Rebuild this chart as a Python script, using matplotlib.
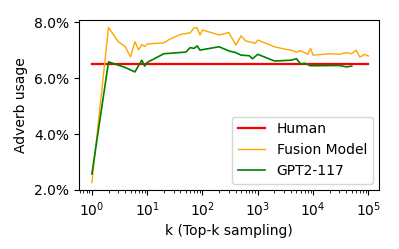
import matplotlib
matplotlib.use("Agg")
import matplotlib.pyplot as plt
from matplotlib.ticker import PercentFormatter

human_k = [1, 100000]
human_y = [6.52, 6.52]

fusion_k = [1, 2, 3, 4, 5, 6, 7, 8, 9, 10, 20, 25, 40, 60, 70, 80, 90, 100,
            200, 300, 400, 500, 600, 800, 900, 1000, 2000, 3000, 4000, 5000,
            6000, 8000, 9000, 10000, 20000, 30000, 40000, 50000, 60000, 70000,
            85000, 100000]
fusion_y = [2.26, 7.81, 7.30, 7.13, 6.76, 7.30, 7.01, 7.20, 7.13, 7.22, 7.26,
            7.38, 7.56, 7.62, 7.79, 7.80, 7.54, 7.72, 7.54, 7.63, 7.18, 7.51,
            7.33, 7.27, 7.24, 7.36, 7.12, 7.04, 7.00, 6.93, 6.98, 6.85, 7.06,
            6.82, 6.87, 6.85, 6.91, 6.87, 7.00, 6.75, 6.85, 6.79]

gpt_k = [1, 2, 4, 6, 8, 9, 10, 20, 50, 60, 70, 80, 90, 200, 300, 400, 500,
         700, 800, 1000, 2000, 4000, 5000, 6000, 7000, 9000, 30000, 40000, 50000]
gpt_y = [2.57, 6.58, 6.38, 6.22, 6.64, 6.43, 6.56, 6.87, 6.93, 7.09, 7.06,
         7.15, 7.00, 7.12, 6.97, 6.91, 6.82, 6.80, 6.69, 6.85, 6.61, 6.64,
         6.69, 6.50, 6.53, 6.44, 6.45, 6.40, 6.43]

fig = plt.figure(figsize=(3.99, 2.49), dpi=100)
ax = fig.add_axes([0.197, 0.235, 0.754, 0.685])
ax.plot(human_k, human_y, color='red', lw=1.6, label='Human')
ax.plot(fusion_k, fusion_y, color='orange', lw=1.0, label='Fusion Model')
ax.plot(gpt_k, gpt_y, color='green', lw=1.2, label='GPT2-117')
ax.set_xscale('log')
ax.set_xlim(10 ** -0.24, 10 ** 5.2)
ax.set_ylim(1.98, 8.08)
ax.set_yticks([2, 4, 6, 8])
ax.yaxis.set_major_formatter(PercentFormatter(xmax=100, decimals=1))
ax.set_xlabel('k (Top-k sampling)')
ax.set_ylabel('Adverb usage')
ax.legend(loc='lower right')
fig.savefig('out.png', dpi=100)
